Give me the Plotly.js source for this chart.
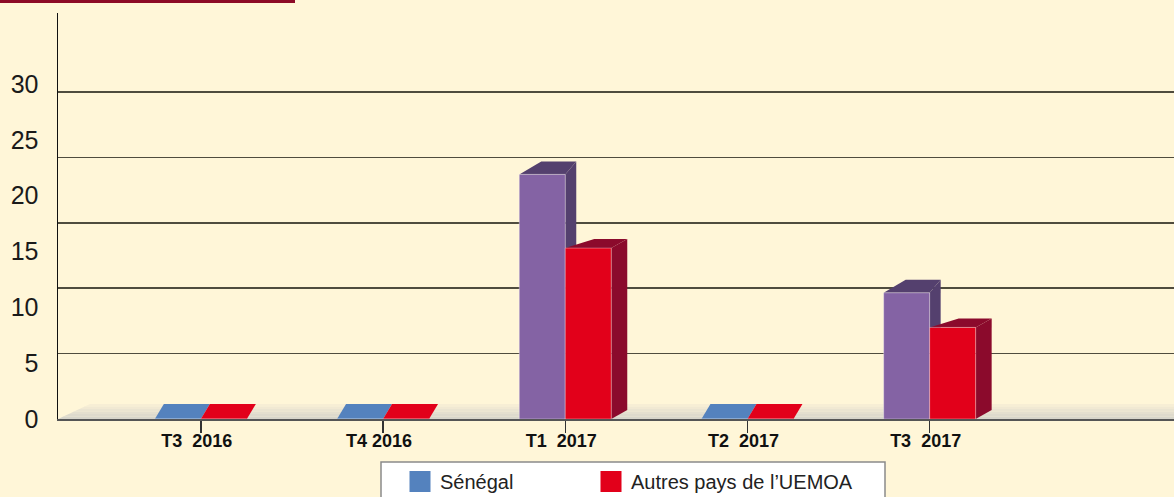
<!DOCTYPE html>
<html>
<head>
<meta charset="utf-8">
<script src="https://cdn.plot.ly/plotly-3.0.1.min.js"></script>
<style>
  html, body { margin: 0; padding: 0; background: #FFF6D8; }
  #chart { width: 1174px; height: 497px; }
</style>
</head>
<body>
<div id="chart"></div>
<script>
// ---------- data ----------
const categories = ["T3\u00a0\u00a02016", "T4 2016", "T1\u00a0\u00a02017", "T2\u00a0\u00a02017", "T3\u00a0\u00a02017"];
const senegal = [0, 0, 21.9, 0, 11.3];
const autresUEMOA = [0, 0, 15.3, 0, 8.2];
const seriesNames = ["Sénégal", "Autres pays de l\u2019UEMOA"];
const yTickValues = [0, 5, 10, 15, 20, 25, 30];
const gridValues = [5, 10, 15, 20, 25];

// ---------- geometry / style ----------
const W = 1174, H = 497;
const M = { l: 58, r: 0, t: 13, b: 78 };
const PW = W - M.l - M.r, PH = H - M.t - M.b;
const XR = [-0.784, 5.341];
const YR = [0, 36.35];
const Y2R = [0, 31.04];
const ux = px => px * (XR[1] - XR[0]) / PW;   // px -> x units
const uy = px => px * (YR[1] - YR[0]) / PH;   // px -> y units
const pxX = p => XR[0] + ux(p - M.l);          // page px -> x
const pxY = p => YR[0] + uy(M.t + PH - p);     // page px -> y
const paperX = p => (p - M.l) / PW;
const paperY = p => (M.t + PH - p) / PH;

const BW = ux(46);
const idx = categories.map((_, i) => i);

const styles = [
  { front: "#8463A4", dark: "#54406E", zero: "#5482BE", legend: "#5482BE", offset: -BW,
    dxL: 22, dxR: 11, dy: 13 },
  { front: "#E2001A", dark: "#8B0A2C", zero: "#E2001A", legend: "#E2001A", offset: 0,
    dxL: 29, dxR: 16, dy: 9 }
];
const ZERO_DX = 9, ZERO_DY = 15;

const seriesValues = [senegal, autresUEMOA];

// ---------- shapes ----------
const shapes = [];
// floor gradient bands
const floorTop = 404, floorBot = 419, nb = 6;
const c0 = [250, 241, 214], c1 = [212, 210, 202];
for (let k = 0; k < nb; k++) {
  const pt = floorTop + (floorBot - floorTop) * k / nb;
  const pb = floorTop + (floorBot - floorTop) * (k + 1) / nb;
  const lx = p => M.l + (floorBot - p) / (floorBot - floorTop) * 32;
  const t = (k + 0.5) / nb;
  const col = "rgb(" + c0.map((v, j) => Math.round(v + (c1[j] - v) * t)).join(",") + ")";
  shapes.push({
    type: "path", xref: "x", yref: "y", layer: "between", line: { width: 0 }, fillcolor: col,
    path: `M ${pxX(lx(pb))},${pxY(pb)} L ${pxX(lx(pt))},${pxY(pt)} L ${XR[1]},${pxY(pt)} L ${XR[1]},${pxY(pb)} Z`
  });
}
// 3D faces of the bars
seriesValues.forEach((vals, s) => {
  const st = styles[s];
  vals.forEach((v, i) => {
    const x0 = i + st.offset, x1 = x0 + BW;
    if (v > 0) {
      const dL = ux(st.dxL), dR = ux(st.dxR), dy = uy(st.dy);
      shapes.push({
        type: "path", xref: "x", yref: "y", layer: "between", line: { width: 0 }, fillcolor: st.dark,
        path: `M ${x1},0 L ${x1},${v} L ${x1 + dR},${v + dy} L ${x1 + dR},${dy} Z`
      });
      shapes.push({
        type: "path", xref: "x", yref: "y", layer: "between", line: { width: 0 }, fillcolor: st.dark,
        path: `M ${x0},${v} L ${x1},${v} L ${x1 + dR},${v + dy} L ${x0 + dL},${v + dy} Z`
      });
    } else {
      const d = ux(ZERO_DX), dy = uy(ZERO_DY);
      shapes.push({
        type: "path", xref: "x", yref: "y", layer: "between", line: { width: 0 }, fillcolor: st.zero,
        path: `M ${x0},0 L ${x1},0 L ${x1 + d},${dy} L ${x0 + d},${dy} Z`
      });
    }
  });
});
// top-left title rule
shapes.push({ type: "rect", xref: "paper", yref: "paper", layer: "above", line: { width: 0 }, fillcolor: "#8C0A26",
  x0: paperX(0), x1: paperX(295), y0: paperY(3), y1: paperY(0) });
// legend box
shapes.push({ type: "rect", xref: "paper", yref: "paper", layer: "above", line: { width: 1.5, color: "#8a8a8a" }, fillcolor: "#ffffff",
  x0: paperX(381), x1: paperX(885), y0: paperY(520), y1: paperY(462) });

// ---------- traces ----------
const traces = [];
seriesValues.forEach((vals, s) => {
  const st = styles[s];
  traces.push({
    type: "bar", x: idx, y: vals, offset: st.offset, width: BW, name: seriesNames[s],
    marker: { color: st.front, line: { color: "rgba(255,255,255,0.35)", width: 1 } },
    showlegend: false, hovertemplate: "%{y}<extra>" + seriesNames[s] + "</extra>"
  });
});
seriesValues.forEach((vals, s) => {
  traces.push({
    type: "scatter", mode: "markers", x: [null], y: [null], name: seriesNames[s],
    marker: { symbol: "square", size: 16, color: styles[s].legend, line: { color: styles[s].legend, width: 5 } },
    hoverinfo: "skip"
  });
});
// spacer entry so the last legend label is not clipped
traces.push({
  type: "scatter", mode: "markers", x: [null], y: [null], name: "\u00a0",
  marker: { symbol: "square", size: 16, color: "rgba(0,0,0,0)", line: { width: 0 } }, hoverinfo: "skip"
});
traces.push({ type: "scatter", x: [null], y: [null], yaxis: "y2", showlegend: false, hoverinfo: "skip" });

const layout = {
  width: W, height: H,
  margin: { l: M.l, r: M.r, t: M.t, b: M.b, autoexpand: false },
  paper_bgcolor: "#FFF6D8", plot_bgcolor: "#FFF6D8",
  font: { family: "Liberation Sans, Arial, sans-serif", color: "#1a1a1a" },
  barmode: "overlay",
  showlegend: true,
  legend: {
    orientation: "h", x: paperX(400), y: paperY(462), xanchor: "left", yanchor: "top",
    bgcolor: "rgba(0,0,0,0)", borderwidth: 0, font: { size: 20, color: "#222" },
    entrywidth: 146, entrywidthmode: "pixels", itemsizing: "trace", traceorder: "normal"
  },
  xaxis: {
    range: XR, tickvals: idx, ticktext: categories, ticks: "outside", ticklen: 12, tickwidth: 1.5,
    tickcolor: "#333", ticklabelstandoff: -8, showline: true, linecolor: "#555", linewidth: 2,
    showgrid: false, zeroline: false, ticklabelshift: -4,
    tickfont: { size: 18, weight: 700, color: "#111" }, fixedrange: true
  },
  yaxis: {
    range: YR, tickvals: yTickValues, showgrid: false, zeroline: false, showline: true,
    linecolor: "#111", linewidth: 1.5, ticks: "", ticklabelstandoff: 13,
    tickfont: { size: 25, color: "#1a1a1a" }, fixedrange: true
  },
  yaxis2: {
    range: Y2R, overlaying: "y", side: "left", tickvals: gridValues, showticklabels: false,
    showgrid: true, gridcolor: "#4f4c3e", gridwidth: 1.5, zeroline: false, showline: false, ticks: "",
    fixedrange: true
  },
  shapes: shapes
};

Plotly.newPlot("chart", traces, layout, { displayModeBar: false, staticPlot: true });
</script>
</body>
</html>
